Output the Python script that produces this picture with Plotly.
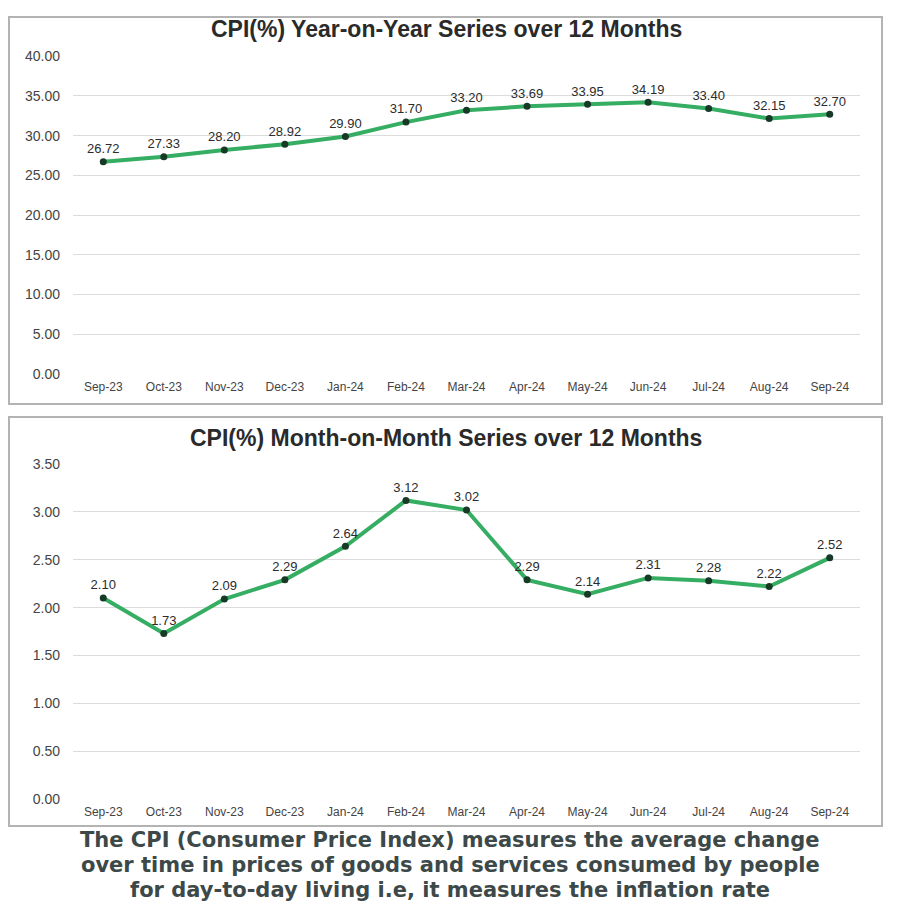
import plotly.graph_objects as go
from plotly.subplots import make_subplots

months = ["Sep-23", "Oct-23", "Nov-23", "Dec-23", "Jan-24", "Feb-24", "Mar-24",
          "Apr-24", "May-24", "Jun-24", "Jul-24", "Aug-24", "Sep-24"]
yoy = [26.72, 27.33, 28.20, 28.92, 29.90, 31.70, 33.20, 33.69, 33.95, 34.19, 33.40, 32.15, 32.70]
mom = [2.10, 1.73, 2.09, 2.29, 2.64, 3.12, 3.02, 2.29, 2.14, 2.31, 2.28, 2.22, 2.52]

yoy_title = "CPI(%) Year-on-Year Series over 12 Months"
mom_title = "CPI(%) Month-on-Month Series over 12 Months"
caption = [
    "The CPI (Consumer Price Index) measures the average change",
    "over time in prices of goods and services consumed by people",
    "for day-to-day living i.e, it measures the inflation rate",
]

# page body keeps its default 8px margin
PAGE = 8
FW, FH = 900 - 2 * PAGE, 921 - 2 * PAGE
FONT = "Liberation Sans, Arial, sans-serif"
LINE = "#35ad62"
MARK = "#173a26"
GRID = "#dcdcdc"
BORDER = "#b3b3b3"


def px_x(px):
    return (px - PAGE) / FW


def py(px):
    # screen row -> paper y (small vertical correction measured on the output)
    f = (px - 7) / 0.9825 - PAGE
    return 1 - f / FH


fig = make_subplots(rows=2, cols=1)

for row, vals in ((1, yoy), (2, mom)):
    fig.add_trace(go.Scatter(
        x=months, y=vals, mode="lines+markers+text",
        text=[f"{v:.2f}" for v in vals], textposition="top center",
        textfont=dict(family=FONT, size=13, color="#2b2b2b"),
        line=dict(color=LINE, width=4),
        marker=dict(color=MARK, size=7),
        cliponaxis=False, showlegend=False, hoverinfo="x+y",
    ), row=row, col=1)

fig.update_xaxes(domain=[px_x(73), px_x(860)], type="category", range=[-0.5, 12.5],
                 showgrid=False, ticks="", ticklabelstandoff=4, showline=False,
                 zeroline=False, tickfont=dict(family=FONT, size=12, color="#444444"))
fig.update_yaxes(showgrid=True, gridcolor=GRID, gridwidth=1.2, tickformat=".2f",
                 ticks="", ticklabelstandoff=12, showline=False, zeroline=False,
                 tickfont=dict(family=FONT, size=14, color="#444444"))

fig.update_layout(
    yaxis=dict(domain=[py(373), py(55)], range=[0, 40], dtick=5),
    yaxis2=dict(domain=[py(798), py(463)], range=[0, 3.5], dtick=0.5),
)

# panel frames
for top, bottom in ((9, 403), (416, 825)):
    fig.add_shape(type="rect", xref="paper", yref="paper",
                  x0=px_x(9), x1=px_x(882), y0=py(bottom), y1=min(py(top), 0.999),
                  line=dict(color=BORDER, width=2), fillcolor="rgba(0,0,0,0)")

for title, ypix in ((yoy_title, 28), (mom_title, 437)):
    fig.add_annotation(text=f"<b>{title}</b>", x=px_x(446), y=py(ypix),
                       xref="paper", yref="paper", xanchor="center", yanchor="middle",
                       showarrow=False, font=dict(family=FONT, size=23, color="#2a2a2a"))

for i, line in enumerate(caption):
    fig.add_annotation(text=f"<b>{line}</b>", x=px_x(450), y=py(839 + 25 * i),
                       xref="paper", yref="paper", xanchor="center", yanchor="middle",
                       showarrow=False,
                       font=dict(family="DejaVu Sans, sans-serif", size=21, color="#3d4848"))

fig.update_layout(
    width=FW, height=FH,
    margin=dict(l=0, r=0, t=0, b=0),
    paper_bgcolor="white", plot_bgcolor="white",
)

fig.write_html("out.html")
